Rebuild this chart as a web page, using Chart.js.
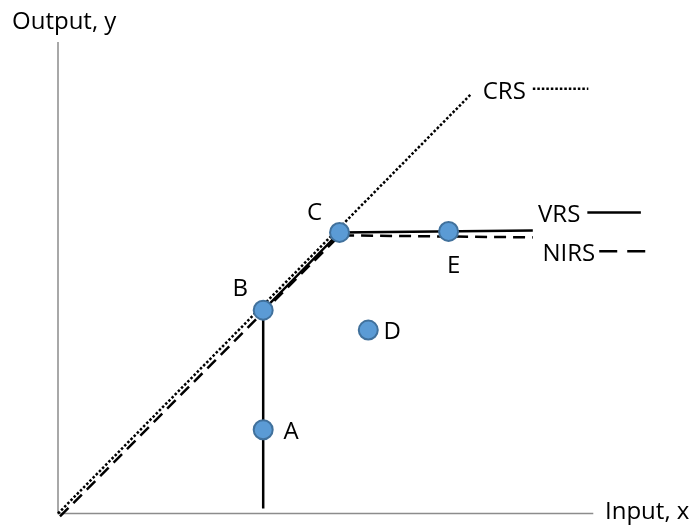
<!DOCTYPE html>
<html>
<head>
<meta charset="utf-8">
<script src="https://cdn.jsdelivr.net/npm/chart.js@4"></script>
<style>
  body { margin:0; background:#fff; }
</style>
</head>
<body>
<canvas id="frontier" width="694" height="525"></canvas>
<script>
// DATA (abstract units, no ticks on the original)

const pointNames = ['A','B','C','D','E'];
const pointX = [20.7, 20.7, 28.4, 31.3, 39.4];
const pointY = [8.4, 20.4, 28.2, 18.4, 28.3];

const crsX = [0, 41.6];
const crsY = [0, 42.0];

const vrsX = [20.7, 20.7, 28.4, 47.9];
const vrsY = [0.5, 20.4, 28.2, 28.4];

const nirsX = [0.2, 28.4, 47.9];
const nirsY = [-0.3, 27.9, 27.7];

const keyNames = ['CRS','VRS','NIRS'];
const keyX = [[47.9, 53.5], [53.4, 58.8], [54.6, 59.4]];
const keyY = [42.6, 30.2, 26.3];

const xMax = 63;
const yMax = 47.3;
const axisXEnd = 54;

const toXY = (xs, ys) => xs.map((x, i) => ({x: x, y: ys[i]}));

const FONT = '24px "Open Sans", sans-serif';

// label offsets in pixels, relative to each point
const labelOffsets = {
  A: [28, 2], B: [-23, -21], C: [-25, -19], D: [24, 2], E: [5, 35]
};

const drawExtras = {
  id: 'drawExtras',
  beforeDatasetsDraw(chart) {
    const {ctx, scales:{x, y}} = chart;
    ctx.save();
    ctx.strokeStyle = '#8c8c8c';
    ctx.lineWidth = 1.5;
    ctx.beginPath();
    ctx.moveTo(x.getPixelForValue(0), y.getPixelForValue(yMax));
    ctx.lineTo(x.getPixelForValue(0), y.getPixelForValue(0));
    ctx.lineTo(x.getPixelForValue(axisXEnd), y.getPixelForValue(0));
    ctx.stroke();
    ctx.restore();
  },
  afterDatasetsDraw(chart) {
    const {ctx, scales:{x, y}} = chart;
    ctx.save();
    ctx.font = FONT;
    ctx.fillStyle = '#000';
    ctx.textBaseline = 'middle';

    // point letters
    ctx.textAlign = 'center';
    pointNames.forEach((name, i) => {
      const off = labelOffsets[name];
      ctx.fillText(name, x.getPixelForValue(pointX[i]) + off[0], y.getPixelForValue(pointY[i]) + off[1]);
    });

    // key labels, right aligned before their line sample
    ctx.textAlign = 'right';
    const gaps = [7, 7, 4];
    keyNames.forEach((name, i) => {
      ctx.fillText(name, x.getPixelForValue(keyX[i][0]) - gaps[i], y.getPixelForValue(keyY[i]) + 3);
    });

    // axis titles
    ctx.textAlign = 'left';
    ctx.fillText('Output, y', 12, 22);
    ctx.fillText('Input, x', 605, 512);
    ctx.restore();
  }
};

const lineStyle = {
  type: 'line',
  borderColor: '#000',
  borderWidth: 2.5,
  pointRadius: 0,
  fill: false,
  tension: 0,
  clip: false
};

new Chart(document.getElementById('frontier'), {

  type: 'scatter',

  data: {
    datasets: [
      {
        label: 'DMUs',
        data: toXY(pointX, pointY),
        backgroundColor: '#5b9bd5',
        borderColor: '#41719c',
        borderWidth: 2,
        pointRadius: 9.5,
        clip: false,
        order: 0
      },
      Object.assign({}, lineStyle, {
        label: 'VRS', data: toXY(vrsX, vrsY), order: 1
      }),
      Object.assign({}, lineStyle, {
        label: 'NIRS', data: toXY(nirsX, nirsY), borderDash: [12, 7], order: 2
      }),
      Object.assign({}, lineStyle, {
        label: 'CRS', data: toXY(crsX, crsY), borderDash: [2.5, 2], order: 3
      }),
      Object.assign({}, lineStyle, {
        label: 'CRS key', data: toXY(keyX[0], [keyY[0], keyY[0]]), borderDash: [2.5, 2], order: 4
      }),
      Object.assign({}, lineStyle, {
        label: 'VRS key', data: toXY(keyX[1], [keyY[1], keyY[1]]), order: 4
      }),
      Object.assign({}, lineStyle, {
        label: 'NIRS key', data: toXY(keyX[2], [keyY[2], keyY[2]]), borderDash: [18, 10], order: 4
      })
    ]
  },

  options: {
    responsive: false,
    animation: false,
    layout: {
      padding: {left: 58, right: 6, top: 42, bottom: 10}
    },
    plugins: {
      legend: {display: false},
      tooltip: {enabled: false}
    },
    scales: {
      x: {type: 'linear', min: 0, max: xMax, display: false},
      y: {type: 'linear', min: 0, max: yMax, display: false}
    }
  },

  plugins: [drawExtras]
});
</script>
</body>
</html>
